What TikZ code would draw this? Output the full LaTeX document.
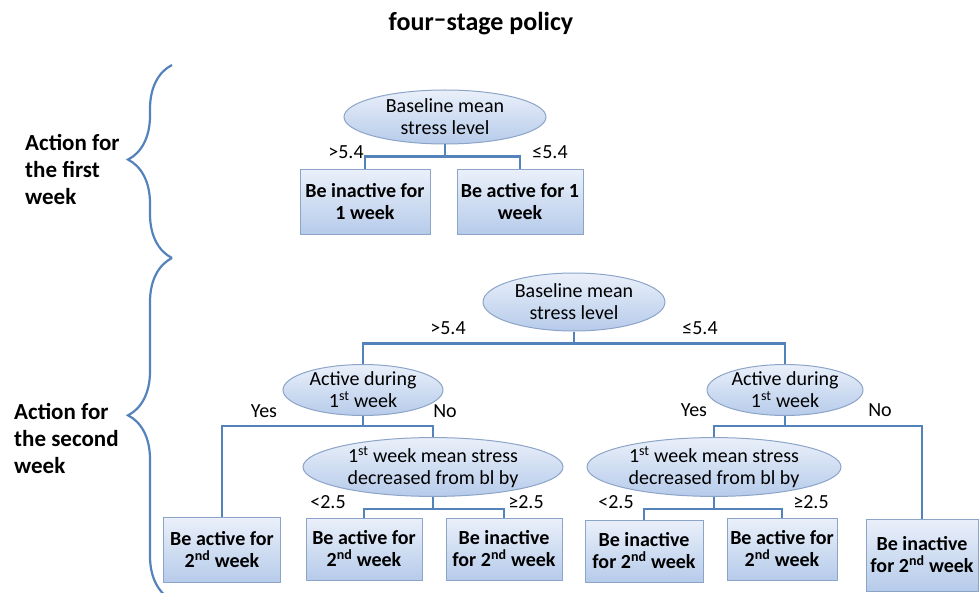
\documentclass[tikz,border=0pt]{standalone}
\usepackage{fontspec}
\setmainfont{Carlito}
\usetikzlibrary{shapes.geometric,decorations.pathreplacing}
\definecolor{linkblue}{RGB}{84,130,186}
\definecolor{boxtop}{RGB}{234,240,250}
\definecolor{boxbot}{RGB}{182,203,234}
\definecolor{boxline}{RGB}{140,164,200}

\begin{document}
\begin{tikzpicture}[x=1pt,y=-1pt,
  leaf/.style={draw=boxline,line width=1pt,top color=boxtop,bottom color=boxbot,minimum width=#1,minimum height=62,inner sep=0,align=center,font=\fontsize{20}{22}\selectfont\bfseries},
  split/.style={ellipse,draw=boxline,line width=1pt,top color=boxtop,bottom color=boxbot,minimum width=#1,minimum height=54,inner sep=0,align=center,font=\fontsize{20}{22}\selectfont},
  cut/.style={inner sep=0,font=\fontsize{20}{22}\selectfont},
  link/.style={draw=linkblue,line width=2.2pt},
  stage/.style={inner sep=0,align=left,anchor=west,font=\fontsize{23}{27}\selectfont\bfseries}]
\useasboundingbox (0,0) rectangle (979,593);
\node[font=\fontsize{26}{30}\selectfont\bfseries] (title) at (481,24) {four\raisebox{0.15em}{–}stage policy};
\node[stage] (week1) at (25,170) {Action for\\the first\\week};
\node[stage] (week2) at (14,438) {Action for\\the second\\week};
\draw[link,decorate,decoration={brace,amplitude=44pt,aspect=0.51}] (172,258) -- (172,65);
\draw[link,decorate,decoration={brace,amplitude=44pt,aspect=0.54}] (172,600) -- (172,258);
\node[split=202] (r1) at (445,117) {Baseline mean\\stress level};
\node[leaf=130,minimum height=65] (b1) at (365,202) {Be inactive for\\1 week};
\node[leaf=126,minimum height=65] (b2) at (520,202) {Be active for 1\\week};
\draw[link] (r1.south) -- ++(0,12) -| (b1.north);
\draw[link] (r1.south) -- ++(0,12) -| (b2.north);
\node[cut] (c1) at (346,152) {>5.4};
\node[cut] (c2) at (550,152) {≤5.4};
\node[split=182,minimum height=58] (r2) at (574,302) {Baseline mean\\stress level};
\node[split=160,minimum height=50] (a1) at (363,390) {Active during\\1\textsuperscript{st} week};
\node[split=156,minimum height=50] (a2) at (785,390) {Active during\\1\textsuperscript{st} week};
\node[split=260,minimum height=58] (d1) at (433,467) {1\textsuperscript{st} week mean stress\\decreased from bl by};
\node[split=254,minimum height=58] (d2) at (714,467) {1\textsuperscript{st} week mean stress\\decreased from bl by};
\node[leaf=117,minimum height=65] (e1) at (222,550) {Be active for\\2\textsuperscript{nd} week};
\node[leaf=116] (e2) at (364,549) {Be active for\\2\textsuperscript{nd} week};
\node[leaf=116] (e3) at (504,549) {Be inactive\\for 2\textsuperscript{nd} week};
\node[leaf=118] (e4) at (644,551) {Be inactive\\for 2\textsuperscript{nd} week};
\node[leaf=110] (e5) at (782,549) {Be active for\\2\textsuperscript{nd} week};
\node[leaf=112,minimum height=72] (e6) at (922,555) {Be inactive\\for 2\textsuperscript{nd} week};
\draw[link] (r2.south) -- ++(0,12) -| (a1.north);
\draw[link] (r2.south) -- ++(0,12) -| (a2.north);
\draw[link] (a1.south) -- ++(0,10) -| (e1.north);
\draw[link] (a1.south) -- ++(0,10) -| (d1.north);
\draw[link] (a2.south) -- ++(0,10) -| (d2.north);
\draw[link] (a2.south) -- ++(0,10) -| (e6.north);
\draw[link] (d1.south) -- ++(0,12) -| (e2.north);
\draw[link] (d1.south) -- ++(0,12) -| (e3.north);
\draw[link] (d2.south) -- ++(0,12) -| (e4.north);
\draw[link] (d2.south) -- ++(0,12) -| (e5.north);
\node[cut] (c3) at (448,328) {>5.4};
\node[cut] (c4) at (700,328) {≤5.4};
\node[cut] (c5) at (264,411) {Yes};
\node[cut] (c6) at (445,411) {No};
\node[cut] (c7) at (694,410) {Yes};
\node[cut] (c8) at (880,410) {No};
\node[cut] (c9) at (328,502) {<2.5};
\node[cut] (c10) at (526,502) {≥2.5};
\node[cut] (c11) at (616,502) {<2.5};
\node[cut] (c12) at (811,502) {≥2.5};
\end{tikzpicture}
\end{document}
